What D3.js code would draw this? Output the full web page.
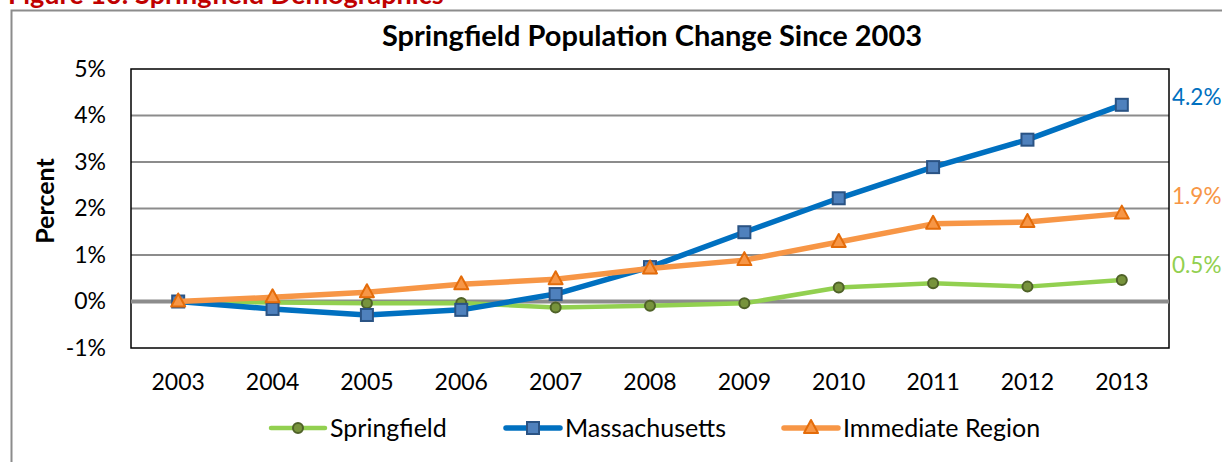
<!DOCTYPE html>
<html lang="en">
<head>
<meta charset="UTF-8">
<title>Springfield Population Change</title>
<style>
  body { margin: 0; background: #fff; }
  svg { display: block; font-family: Lato, "Open Sans", sans-serif; }
</style>
</head>
<body>
<svg width="1222" height="462"></svg>
<script src="https://d3js.org/d3.v7.min.js"></script>
<script>
  // data (percent change since 2003)
  var years = ["2003","2004","2005","2006","2007","2008","2009","2010","2011","2012","2013"];
  var springfield   = [0, -0.02, -0.04, -0.03, -0.13, -0.09, -0.04, 0.30, 0.39, 0.32, 0.46];
  var massachusetts = [0, -0.16, -0.29, -0.18, 0.16, 0.74, 1.49, 2.22, 2.89, 3.48, 4.23];
  var region        = [0, 0.09, 0.20, 0.37, 0.48, 0.71, 0.89, 1.28, 1.67, 1.71, 1.89];
  var yTicks = [-1, 0, 1, 2, 3, 4, 5];
  var seriesNames = ["Springfield", "Massachusetts", "Immediate Region"];
  var endLabels = ["0.5%", "4.2%", "1.9%"];

  var svg = d3.select("svg");
  var plot = {left: 131, right: 1169, top: 69, bottom: 348};

  // figure caption, mostly cut off at the top
  svg.append("text")
    .attr("x", 8).attr("y", 4)
    .attr("fill", "#c00000")
    .attr("font-weight", "bold")
    .attr("font-size", 27)
    .text("Figure 10: Springfield Demographics");

  // chart frame
  svg.append("path")
    .attr("d", "M11.5,470 V10.5 H1230")
    .attr("fill", "none")
    .attr("stroke", "#8c8c8c")
    .attr("stroke-width", 2);

  svg.append("text")
    .attr("x", 652).attr("y", 46)
    .attr("text-anchor", "middle")
    .attr("font-weight", "bold")
    .attr("font-size", 29)
    .text("Springfield Population Change Since 2003");

  var x = d3.scaleBand().domain(years).range([plot.left, plot.right]);
  var y = d3.scaleLinear().domain([-1, 5]).range([plot.bottom, plot.top]);
  var cx = function(d, i) { return x(years[i]) + x.bandwidth() / 2; };

  // gridlines
  svg.append("g")
    .selectAll("line")
    .data(yTicks.filter(function(t) { return t !== 0 && t !== 5 && t !== -1; }))
    .enter().append("line")
    .attr("x1", plot.left).attr("x2", plot.right)
    .attr("y1", function(d) { return y(d); })
    .attr("y2", function(d) { return y(d); })
    .attr("stroke", "#8c8c8c")
    .attr("stroke-width", 2);

  // plot border
  svg.append("rect")
    .attr("x", plot.left).attr("y", plot.top)
    .attr("width", plot.right - plot.left)
    .attr("height", plot.bottom - plot.top)
    .attr("fill", "none")
    .attr("stroke", "#000")
    .attr("stroke-width", 1.5);

  // zero line
  svg.append("line")
    .attr("x1", plot.left).attr("x2", plot.right)
    .attr("y1", y(0)).attr("y2", y(0))
    .attr("stroke", "#8c8c8c")
    .attr("stroke-width", 4);

  // y axis labels
  var yAxis = d3.axisLeft(y).tickValues(yTicks)
    .tickFormat(function(d) { return d + "%"; })
    .tickSize(0).tickPadding(25);
  var gy = svg.append("g")
    .attr("transform", "translate(" + plot.left + ",0)")
    .call(yAxis);
  gy.select(".domain").remove();
  gy.selectAll("text")
    .attr("font-family", "Lato, sans-serif")
    .attr("font-size", 23).attr("fill", "#000");

  // x axis labels
  var xAxis = d3.axisBottom(x).tickSize(0).tickPadding(26);
  var gx = svg.append("g")
    .attr("transform", "translate(0," + plot.bottom + ")")
    .call(xAxis);
  gx.select(".domain").remove();
  gx.selectAll("text")
    .attr("font-family", "Lato, sans-serif")
    .attr("font-size", 23).attr("fill", "#000");

  svg.append("text")
    .attr("transform", "translate(54,201) rotate(-90)")
    .attr("text-anchor", "middle")
    .attr("font-weight", "bold")
    .attr("font-size", 25)
    .text("Percent");

  var styles = [
    {data: springfield, line: "#92d050", width: 4.5, marker: "circle", fill: "#77933c", stroke: "#4f6228"},
    {data: massachusetts, line: "#0070c0", width: 5.5, marker: "square", fill: "#4f81bd", stroke: "#2a5384"},
    {data: region, line: "#f79646", width: 5.5, marker: "triangle", fill: "#f79646", stroke: "#e46c0a"}
  ];

  function drawMarker(g, type, s) {
    if (type === "circle") {
      g.append("circle").attr("r", 5)
        .attr("fill", s.fill).attr("stroke", s.stroke).attr("stroke-width", 2);
    } else if (type === "square") {
      g.append("rect").attr("x", -6).attr("y", -6).attr("width", 12).attr("height", 12)
        .attr("fill", s.fill).attr("stroke", s.stroke).attr("stroke-width", 2);
    } else {
      g.append("path").attr("d", "M0,-8 L7,5 L-7,5 Z")
        .attr("fill", s.fill).attr("stroke", s.stroke).attr("stroke-width", 2)
        .attr("stroke-linejoin", "round");
    }
  }

  var line = d3.line().x(cx).y(function(d) { return y(d); });

  styles.forEach(function(s) {
    svg.append("path")
      .datum(s.data)
      .attr("d", line)
      .attr("fill", "none")
      .attr("stroke", s.line)
      .attr("stroke-width", s.width)
      .attr("stroke-linejoin", "round");
    svg.append("g").selectAll("g")
      .data(s.data).enter().append("g")
      .attr("transform", function(d, i) { return "translate(" + cx(d, i) + "," + y(d) + ")"; })
      .each(function() { drawMarker(d3.select(this), s.marker, s); });
  });

  // end-of-line value labels, squeezed against the right edge
  var labelY = [265, 97, 196];
  styles.forEach(function(s, i) {
    svg.append("text")
      .attr("x", 1172).attr("y", labelY[i])
      .attr("dy", "0.35em")
      .attr("font-size", 22.5)
      .attr("fill", s.line)
      .text(endLabels[i]);
  });

  // legend
  var legendX = [271, 506, 784];
  styles.forEach(function(s, i) {
    var g = svg.append("g").attr("transform", "translate(" + legendX[i] + ",428)");
    g.append("line").attr("x1", 0).attr("x2", 54)
      .attr("stroke", s.line).attr("stroke-width", s.width).attr("stroke-linecap", "round");
    var m = g.append("g").attr("transform", "translate(27,0)");
    drawMarker(m, s.marker, s);
    g.append("text").attr("x", 59).attr("dy", "0.35em")
      .attr("font-size", 25)
      .text(seriesNames[i]);
  });
</script>
</body>
</html>
